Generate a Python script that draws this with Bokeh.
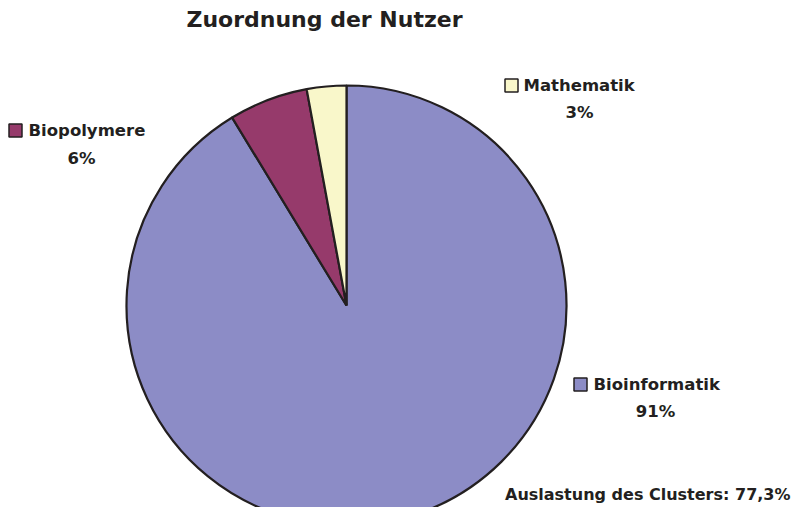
import numpy as np
from bokeh.plotting import figure
from bokeh.models import Range1d, ColumnDataSource
from bokeh.core.properties import value
from bokeh.embed import file_html
from bokeh.resources import INLINE

# data (clockwise from 12 o'clock)
categories = ["Bioinformatik", "Biopolymere", "Mathematik"]
shares = [91.3, 5.8, 2.9]
pct_labels = ["91%", "6%", "3%"]
colors = ["#8C8CC6", "#963A6B", "#F9F7CA"]
title_text = "Zuordnung der Nutzer"
note_text = "Auslastung des Clusters: 77,3%"

# layout (picture pixels; y flipped)
W, H = 792, 507
def Y(py):
    return H - py

p = figure(width=W, height=H, output_backend="svg", toolbar_location=None,
           x_range=Range1d(0, W), y_range=Range1d(0, H),
           min_border=0, border_fill_color="white", background_fill_color="white")
p.axis.visible = False
p.grid.visible = False
p.outline_line_color = None

# wedge angles: clockwise from top
vals = np.array(shares, dtype=float)
frac = vals / vals.sum()
ends = np.pi / 2 - 2 * np.pi * np.cumsum(frac)
starts = np.concatenate([[np.pi / 2], ends[:-1]])
src = ColumnDataSource(dict(cat=categories, start=starts, end=ends, color=colors))
p.wedge(x=346, y=Y(305), radius=220, radius_units="screen",
        start_angle="end", end_angle="start", direction="anticlock",
        fill_color="color", line_color="#231F20", line_width=2.2, source=src)

font = value("DejaVu Sans")
txt_color = "#231F20"

p.text(x=[324], y=[Y(19)], text=[title_text], text_font=font, text_font_style="bold",
       text_font_size="22px", text_align="center", text_baseline="middle", text_color=txt_color)

# legend squares + labels
sq_x = [580, 15, 511]
sq_y = [384, 130, 85]
lbl_x = [593, 28, 523]
pct_x = [655, 81, 579]
pct_y = [411, 158, 112]
p.scatter(x=sq_x, y=[Y(v) for v in sq_y], marker="square", size=13,
          fill_color=colors, line_color="#231F20", line_width=1.5)
p.text(x=lbl_x, y=[Y(v) for v in sq_y], text=categories, text_font=font,
       text_font_style="bold", text_font_size="16.5px", text_align="left",
       text_baseline="middle", text_color=txt_color)
p.text(x=pct_x, y=[Y(v) for v in pct_y], text=pct_labels, text_font=font,
       text_font_style="bold", text_font_size="16.5px", text_align="center",
       text_baseline="middle", text_color=txt_color)

p.text(x=[790], y=[Y(494)], text=[note_text], text_font=font, text_font_style="bold",
       text_font_size="16px", text_align="right", text_baseline="middle", text_color=txt_color)

open("out.html", "w").write(file_html(p, INLINE))
